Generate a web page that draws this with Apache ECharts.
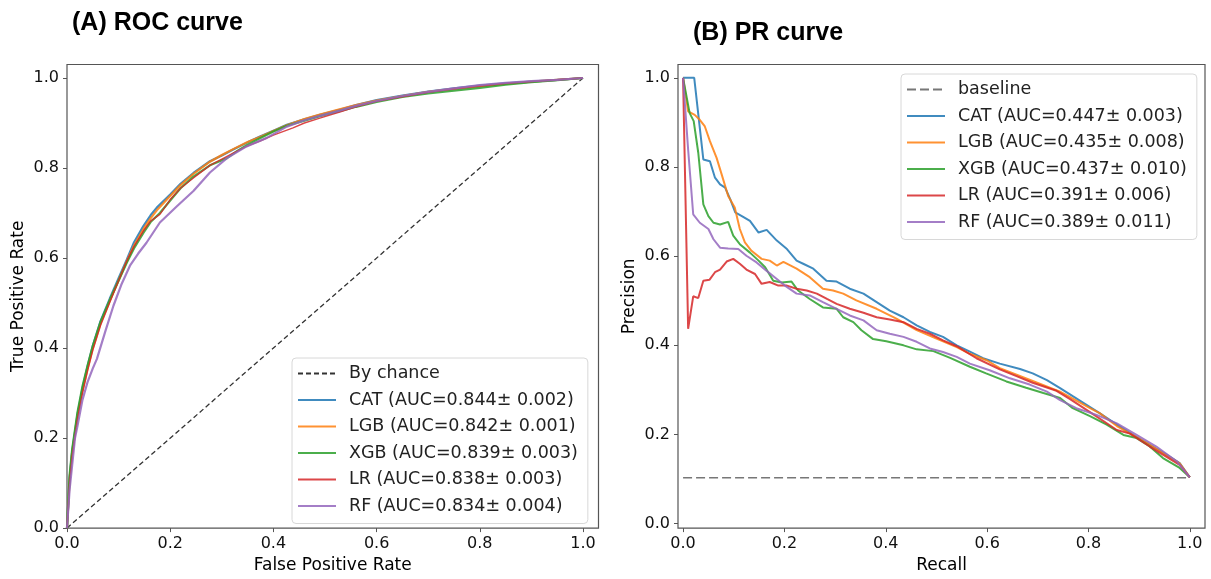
<!DOCTYPE html>
<html><head><meta charset="utf-8">
<script src="https://cdn.jsdelivr.net/npm/echarts@6/dist/echarts.min.js"></script>
<style>html,body{margin:0;padding:0;background:#fff}#c{width:1211px;height:579px}</style>
</head><body><div id="c"></div>
<script>
// ---------- tick labels ----------
const tickValues = [0, 0.2, 0.4, 0.6, 0.8, 1.0];

// ---------- names ----------
const rocNames = ['CAT (AUC=0.844\u00b1 0.002)','LGB (AUC=0.842\u00b1 0.001)','XGB (AUC=0.839\u00b1 0.003)','LR (AUC=0.838\u00b1 0.003)','RF (AUC=0.834\u00b1 0.004)'];
const prNames  = ['CAT (AUC=0.447\u00b1 0.003)','LGB (AUC=0.435\u00b1 0.008)','XGB (AUC=0.437\u00b1 0.010)','LR (AUC=0.391\u00b1 0.006)','RF (AUC=0.389\u00b1 0.011)'];

// ---------- ROC data [fpr, tpr] ----------
const chanceLine = [[0,0],[1,1]];
const rocCAT = [[0,0],[0.005,0.11],[0.01,0.17],[0.02,0.25],[0.03,0.31],[0.04,0.36],[0.05,0.405],[0.065,0.46],[0.083,0.51],[0.1,0.555],[0.116,0.597],[0.13,0.635],[0.148,0.671],[0.162,0.695],[0.174,0.712],[0.2,0.741],[0.22,0.765],[0.245,0.789],[0.277,0.815],[0.3,0.828],[0.322,0.841],[0.35,0.857],[0.374,0.87],[0.4,0.883],[0.426,0.896],[0.46,0.908],[0.49,0.918],[0.53,0.93],[0.56,0.94],[0.6,0.951],[0.65,0.961],[0.7,0.97],[0.75,0.977],[0.8,0.983],[0.85,0.988],[0.9,0.992],[0.95,0.996],[1,1]];
const rocLGB = [[0,0],[0.005,0.105],[0.01,0.165],[0.02,0.245],[0.03,0.305],[0.04,0.355],[0.05,0.4],[0.065,0.455],[0.083,0.505],[0.1,0.55],[0.116,0.593],[0.13,0.628],[0.148,0.664],[0.162,0.688],[0.174,0.706],[0.2,0.738],[0.22,0.762],[0.245,0.787],[0.277,0.814],[0.3,0.829],[0.322,0.842],[0.35,0.858],[0.374,0.869],[0.4,0.882],[0.426,0.895],[0.46,0.909],[0.49,0.919],[0.53,0.931],[0.56,0.94],[0.6,0.95],[0.65,0.96],[0.7,0.969],[0.75,0.976],[0.8,0.982],[0.85,0.987],[0.9,0.992],[0.95,0.996],[1,1]];
const rocXGB = [[0,0],[0.005,0.118],[0.01,0.175],[0.02,0.255],[0.03,0.315],[0.04,0.362],[0.05,0.405],[0.065,0.458],[0.083,0.507],[0.1,0.55],[0.116,0.59],[0.13,0.622],[0.148,0.656],[0.162,0.68],[0.18,0.7],[0.2,0.728],[0.22,0.755],[0.245,0.781],[0.277,0.806],[0.31,0.822],[0.33,0.838],[0.35,0.852],[0.374,0.866],[0.4,0.881],[0.426,0.894],[0.46,0.905],[0.49,0.915],[0.53,0.927],[0.56,0.936],[0.6,0.947],[0.65,0.958],[0.7,0.966],[0.75,0.972],[0.8,0.978],[0.85,0.985],[0.9,0.991],[0.95,0.995],[1,1]];
const rocLR  = [[0,0],[0.005,0.1],[0.01,0.16],[0.02,0.24],[0.03,0.3],[0.04,0.35],[0.05,0.395],[0.065,0.45],[0.083,0.502],[0.1,0.55],[0.116,0.594],[0.13,0.626],[0.148,0.66],[0.162,0.682],[0.18,0.697],[0.2,0.73],[0.22,0.755],[0.245,0.778],[0.277,0.806],[0.3,0.82],[0.322,0.833],[0.35,0.849],[0.374,0.86],[0.4,0.873],[0.438,0.889],[0.46,0.9],[0.49,0.911],[0.53,0.925],[0.56,0.936],[0.6,0.948],[0.65,0.958],[0.7,0.968],[0.75,0.976],[0.8,0.982],[0.85,0.988],[0.9,0.992],[0.95,0.996],[1,1]];
const rocRF  = [[0,0],[0.005,0.085],[0.01,0.14],[0.0155,0.2],[0.02,0.225],[0.03,0.285],[0.04,0.325],[0.05,0.355],[0.058,0.376],[0.075,0.44],[0.09,0.494],[0.105,0.54],[0.122,0.583],[0.138,0.61],[0.154,0.634],[0.18,0.679],[0.213,0.715],[0.245,0.749],[0.277,0.79],[0.31,0.822],[0.348,0.848],[0.387,0.867],[0.426,0.892],[0.46,0.906],[0.49,0.916],[0.53,0.928],[0.56,0.938],[0.6,0.949],[0.65,0.96],[0.7,0.969],[0.75,0.977],[0.8,0.984],[0.85,0.989],[0.9,0.993],[0.95,0.996],[1,1]];

// ---------- PR data [recall, precision] ----------
const baselineLine = [[0,0.103],[1,0.103]];
const prCAT = [[0,1],[0.022,1],[0.04,0.817],[0.053,0.813],[0.063,0.776],[0.073,0.761],[0.083,0.754],[0.093,0.728],[0.103,0.698],[0.116,0.69],[0.132,0.679],[0.149,0.653],[0.165,0.659],[0.185,0.635],[0.205,0.616],[0.224,0.59],[0.237,0.583],[0.257,0.572],[0.283,0.545],[0.303,0.543],[0.329,0.527],[0.356,0.516],[0.382,0.497],[0.408,0.478],[0.435,0.463],[0.461,0.445],[0.487,0.43],[0.513,0.419],[0.54,0.4],[0.566,0.386],[0.592,0.371],[0.625,0.359],[0.665,0.347],[0.69,0.337],[0.718,0.322],[0.744,0.304],[0.769,0.286],[0.797,0.266],[0.822,0.248],[0.856,0.222],[0.888,0.199],[0.921,0.177],[0.954,0.155],[0.98,0.136],[1,0.104]];
const prLGB = [[0,1],[0.01,0.925],[0.023,0.917],[0.033,0.906],[0.043,0.891],[0.053,0.858],[0.066,0.821],[0.076,0.784],[0.089,0.735],[0.102,0.709],[0.112,0.661],[0.122,0.631],[0.135,0.612],[0.155,0.594],[0.171,0.59],[0.185,0.579],[0.198,0.587],[0.224,0.572],[0.25,0.553],[0.276,0.527],[0.296,0.523],[0.316,0.516],[0.342,0.501],[0.382,0.482],[0.421,0.46],[0.461,0.434],[0.5,0.415],[0.54,0.396],[0.566,0.381],[0.6,0.366],[0.625,0.349],[0.69,0.32],[0.744,0.296],[0.803,0.259],[0.822,0.248],[0.856,0.219],[0.921,0.177],[0.98,0.135],[1,0.104]];
const prXGB = [[0,1],[0.013,0.921],[0.021,0.903],[0.03,0.832],[0.04,0.716],[0.05,0.69],[0.06,0.675],[0.073,0.671],[0.089,0.677],[0.099,0.646],[0.112,0.627],[0.132,0.608],[0.149,0.59],[0.162,0.575],[0.178,0.545],[0.195,0.541],[0.214,0.543],[0.227,0.523],[0.25,0.504],[0.276,0.485],[0.303,0.482],[0.316,0.463],[0.336,0.452],[0.352,0.434],[0.375,0.414],[0.401,0.409],[0.435,0.4],[0.461,0.391],[0.494,0.387],[0.527,0.372],[0.566,0.352],[0.598,0.337],[0.638,0.319],[0.677,0.305],[0.711,0.293],[0.744,0.282],[0.769,0.259],[0.803,0.241],[0.836,0.222],[0.869,0.199],[0.895,0.192],[0.921,0.173],[0.947,0.147],[0.98,0.125],[1,0.104]];
const prLR  = [[0,1],[0.01,0.437],[0.02,0.51],[0.03,0.506],[0.04,0.545],[0.052,0.547],[0.063,0.564],[0.073,0.57],[0.086,0.588],[0.099,0.594],[0.112,0.583],[0.125,0.57],[0.142,0.56],[0.155,0.538],[0.171,0.542],[0.188,0.534],[0.205,0.534],[0.224,0.527],[0.244,0.523],[0.264,0.516],[0.284,0.504],[0.303,0.493],[0.329,0.482],[0.356,0.473],[0.382,0.463],[0.408,0.458],[0.435,0.452],[0.461,0.437],[0.487,0.426],[0.513,0.411],[0.54,0.398],[0.579,0.371],[0.625,0.346],[0.658,0.331],[0.69,0.316],[0.737,0.298],[0.763,0.28],[0.803,0.25],[0.856,0.21],[0.882,0.202],[0.921,0.173],[0.98,0.132],[1,0.104]];
const prRF  = [[0,1],[0.01,0.839],[0.02,0.694],[0.033,0.675],[0.05,0.661],[0.06,0.638],[0.073,0.619],[0.089,0.617],[0.109,0.616],[0.125,0.601],[0.145,0.586],[0.165,0.567],[0.185,0.549],[0.201,0.534],[0.224,0.516],[0.25,0.512],[0.276,0.497],[0.303,0.482],[0.329,0.467],[0.356,0.456],[0.382,0.434],[0.408,0.426],[0.435,0.419],[0.461,0.408],[0.487,0.393],[0.513,0.385],[0.54,0.374],[0.566,0.359],[0.605,0.344],[0.645,0.326],[0.684,0.312],[0.718,0.296],[0.744,0.277],[0.776,0.259],[0.816,0.244],[0.856,0.225],[0.895,0.199],[0.934,0.173],[0.974,0.14],[1,0.104]];

// ---------- styling ----------
const colors = ['#1f77b4','#ff7f0e','#2ca02c','#d62728','#9467bd'];
const FONT = 'DejaVu Sans';
const frameColor = '#555';

function curve(name, data, color, width, idx) {
  return { type:'line', name, data, xAxisIndex:idx, yAxisIndex:idx, symbol:'none', showSymbol:false, silent:true,
    lineStyle:{ color, width, opacity:0.85 }, itemStyle:{ color }, animation:false };
}
function dashed(name, data, color, width, dash, idx) {
  return { type:'line', name, data, xAxisIndex:idx, yAxisIndex:idx, symbol:'none', showSymbol:false, silent:true,
    lineStyle:{ color, width, type:dash }, itemStyle:{ color }, animation:false };
}
function axis(idx, min, max, name, isY, nameGap) {
  return { type:'value', gridIndex:idx, min, max, name, nameLocation:'middle', nameGap,
    nameTextStyle:{ fontFamily:FONT, fontSize:17, color:'#000' },
    axisLine:{ show:false, onZero:false },
    splitLine:{ show:false },
    axisTick:{ show:true, inside:false, length:4, customValues:tickValues, lineStyle:{ color:frameColor, width:1 } },
    axisLabel:{ show:true, margin:8, customValues:tickValues, fontFamily:FONT, fontSize:16, color:'#111',
      formatter: v => Number(v).toFixed(1) }
  };
}
function legend(left, top, names) {
  return { orient:'vertical', left, top, selectedMode:false, data:names,
    backgroundColor:'#fff', borderColor:'#d8d8d8', borderWidth:1, borderRadius:4,
    padding:[5,10,7,5], itemGap:5.5, itemWidth:38, itemHeight:12,
    itemStyle:{ opacity:0, borderWidth:0 },
    textStyle:{ fontFamily:FONT, fontSize:17.5, color:'#222', lineHeight:21, padding:[0,0,0,8] } };
}

const series = [
  dashed('By chance', chanceLine, '#333', 1.3, [5,3], 0),
  curve(rocNames[0], rocCAT, colors[0], 2.2, 0),
  curve(rocNames[1], rocLGB, colors[1], 2.2, 0),
  curve(rocNames[2], rocXGB, colors[2], 2.2, 0),
  curve(rocNames[3], rocLR,  colors[3], 1.4, 0),
  curve(rocNames[4], rocRF,  colors[4], 2.2, 0),
  dashed('baseline', baselineLine, '#777', 1.5, [9,4], 1),
  curve(prNames[0], prCAT, colors[0], 2, 1),
  curve(prNames[1], prLGB, colors[1], 2, 1),
  curve(prNames[2], prXGB, colors[2], 2, 1),
  curve(prNames[3], prLR,  colors[3], 2, 1),
  curve(prNames[4], prRF,  colors[4], 2, 1)
];

const chart = echarts.init(document.getElementById('c'), null, { renderer:'canvas' });
chart.setOption({
  animation:false,
  backgroundColor:'#fff',
  title:[
    { text:'(A) ROC curve', left:67, top:6, textStyle:{ fontFamily:'Liberation Sans', fontWeight:'bold', fontSize:25, color:'#000' } },
    { text:'(B) PR curve', left:688, top:16, textStyle:{ fontFamily:'Liberation Sans', fontWeight:'bold', fontSize:25, color:'#000' } }
  ],
  grid:[
    { left:67, top:64.5, width:531.5, height:465.5, show:true, borderColor:frameColor, borderWidth:1.2, backgroundColor:'transparent' },
    { left:678, top:64.5, width:527, height:466, show:true, borderColor:frameColor, borderWidth:1.2, backgroundColor:'transparent' }
  ],
  xAxis:[ axis(0, 0, 1.03, 'False Positive Rate', false, 27), axis(1, -0.01, 1.03, 'Recall', false, 27) ],
  yAxis:[ axis(0, 0, 1.03, 'True Positive Rate', true, 40), axis(1, -0.01, 1.03, 'Precision', true, 40) ],
  legend:[ legend(292, 358, ['By chance'].concat(rocNames)), legend(901, 74, ['baseline'].concat(prNames)) ],
  series
});
</script>
</body></html>
